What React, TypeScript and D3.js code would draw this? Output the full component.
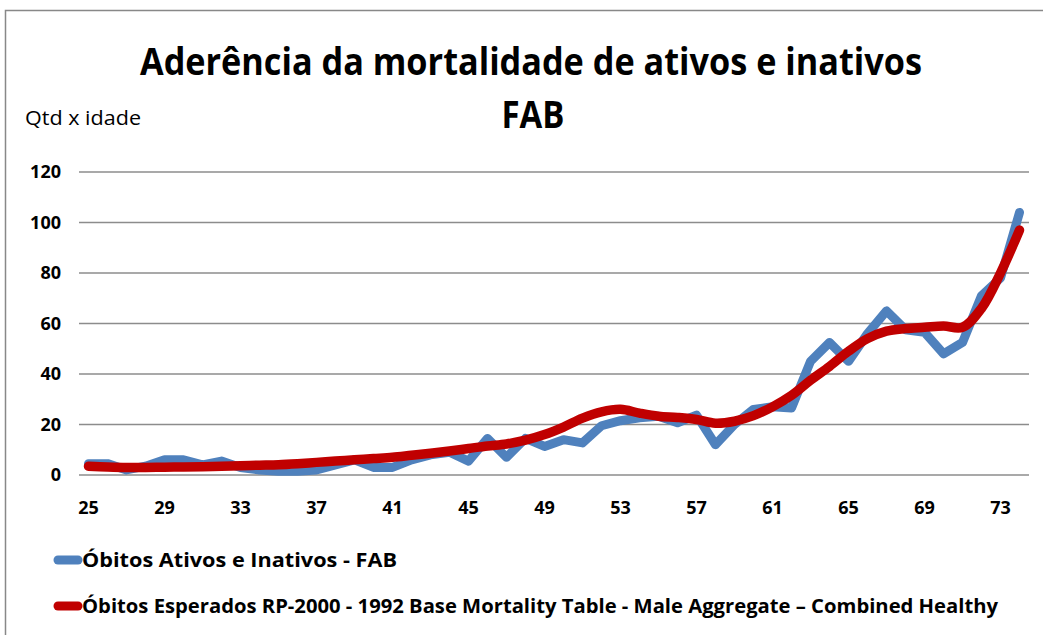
import React, { useEffect, useRef } from 'react';
import * as d3 from 'd3';

const ages = d3.range(25, 75);

const obitosFAB = [
  4.5, 4.5, 2, 3.5, 6, 6, 4, 5.5, 3, 2,
  1.5, 1.5, 2, 4, 6, 3, 3, 6, 8, 9,
  5.5, 14.5, 7, 14.5, 11.3, 14, 12.7, 19.5, 21.5, 22.7,
  23.3, 20.7, 23.7, 12, 20, 26, 27, 26.5, 45, 52.5,
  45, 56, 65, 57.5, 56.5, 48, 52.5, 71, 78, 104
];

const obitosEsperados = [
  3.5, 3.2, 3.0, 3.0, 3.1, 3.2, 3.3, 3.5, 3.7, 3.9,
  4.1, 4.5, 5.0, 5.5, 6.0, 6.5, 7.0, 7.8, 8.6, 9.5,
  10.5, 11.5, 12.3, 13.8, 16, 19, 22.5, 25, 26, 24.5,
  23.3, 22.8, 22, 20.5, 21.3, 23.5, 27, 31.5, 37.5, 43,
  49, 54, 57, 58, 58.5, 59, 58.5, 66, 80, 97
];

const yTicks = [0, 20, 40, 60, 80, 100, 120];
const xTicks = d3.range(25, 75, 4);

const seriesNames = [
  'Óbitos Ativos e Inativos - FAB',
  'Óbitos Esperados RP-2000 - 1992 Base Mortality Table - Male Aggregate – Combined Healthy'
];
const seriesColors = ['#4F81BD', '#C00000'];

const FONT = '"Open Sans", "Noto Sans", sans-serif';

const App = () => {
  const svgRef = useRef<SVGSVGElement>(null);

  useEffect(() => {
    const width = 1043;
    const height = 635;
    const svg = d3.select(svgRef.current);
    svg.selectAll('*').remove();
    svg.attr('width', width).attr('height', height);

    svg.append('rect')
      .attr('width', width)
      .attr('height', height)
      .attr('fill', '#fff');

    // chart border (right and bottom edges fall outside the picture)
    svg.append('rect')
      .attr('x', 5.5)
      .attr('y', 10.5)
      .attr('width', width + 10)
      .attr('height', height + 10)
      .attr('fill', '#fff')
      .attr('stroke', '#888')
      .attr('stroke-width', 1.5);

    const x = d3.scaleLinear().domain([24.5, 74.5]).range([79, 1029]);
    const y = d3.scaleLinear().domain([0, 120]).range([475, 172]);

    // title
    svg.append('text')
      .attr('x', 531)
      .attr('y', 75)
      .attr('text-anchor', 'middle')
      .attr('font-family', FONT)
      .attr('font-weight', 'bold')
      .attr('font-size', 37)
      .attr('textLength', 782)
      .attr('lengthAdjust', 'spacingAndGlyphs')
      .attr('fill', '#000')
      .text('Aderência da mortalidade de ativos e inativos');

    svg.append('text')
      .attr('x', 533)
      .attr('y', 128)
      .attr('text-anchor', 'middle')
      .attr('font-family', FONT)
      .attr('font-weight', 'bold')
      .attr('font-size', 38)
      .attr('textLength', 63)
      .attr('lengthAdjust', 'spacingAndGlyphs')
      .attr('fill', '#000')
      .text('FAB');

    svg.append('text')
      .attr('x', 25)
      .attr('y', 125)
      .attr('font-family', FONT)
      .attr('font-size', 20)
      .attr('textLength', 116)
      .attr('lengthAdjust', 'spacingAndGlyphs')
      .attr('fill', '#000')
      .text('Qtd x idade');

    // grid
    svg.append('g')
      .selectAll('line')
      .data(yTicks)
      .enter()
      .append('line')
      .attr('x1', 79)
      .attr('x2', 1029)
      .attr('y1', d => y(d))
      .attr('y2', d => y(d))
      .attr('stroke', '#8c8c8c')
      .attr('stroke-width', 1.5);

    // y labels
    svg.append('g')
      .selectAll('text')
      .data(yTicks)
      .enter()
      .append('text')
      .attr('x', 61)
      .attr('y', d => y(d) + 6)
      .attr('text-anchor', 'end')
      .attr('font-family', FONT)
      .attr('font-weight', 'bold')
      .attr('font-size', 18)
      .attr('fill', '#000')
      .text(d => d);

    // x labels
    svg.append('g')
      .selectAll('text')
      .data(xTicks)
      .enter()
      .append('text')
      .attr('x', d => x(d))
      .attr('y', 514)
      .attr('text-anchor', 'middle')
      .attr('font-family', FONT)
      .attr('font-weight', 'bold')
      .attr('font-size', 18)
      .attr('fill', '#000')
      .text(d => d);

    const blueLine = d3.line<number>()
      .x((d, i) => x(ages[i]))
      .y(d => y(d));

    const redLine = d3.line<number>()
      .x((d, i) => x(ages[i]))
      .y(d => y(d))
      .curve(d3.curveCatmullRom.alpha(0.5));

    svg.append('path')
      .datum(obitosFAB)
      .attr('d', blueLine)
      .attr('fill', 'none')
      .attr('stroke', seriesColors[0])
      .attr('stroke-width', 9)
      .attr('stroke-linejoin', 'round')
      .attr('stroke-linecap', 'round');

    svg.append('path')
      .datum(obitosEsperados)
      .attr('d', redLine)
      .attr('fill', 'none')
      .attr('stroke', seriesColors[1])
      .attr('stroke-width', 9.5)
      .attr('stroke-linejoin', 'round')
      .attr('stroke-linecap', 'round');

    // legend
    const legendY = [560, 606];
    const legend = svg.append('g');
    seriesNames.forEach((name, i) => {
      legend.append('line')
        .attr('x1', 58)
        .attr('x2', 78)
        .attr('y1', legendY[i])
        .attr('y2', legendY[i])
        .attr('stroke', seriesColors[i])
        .attr('stroke-width', 9)
        .attr('stroke-linecap', 'round');
      legend.append('text')
        .attr('x', 82)
        .attr('y', legendY[i] + 7)
        .attr('font-family', FONT)
        .attr('font-weight', 'bold')
        .attr('font-size', 19)
        .attr('textLength', i === 0 ? 315 : 916)
        .attr('lengthAdjust', 'spacingAndGlyphs')
        .attr('fill', '#000')
        .text(name);
    });
  }, []);

  return (
    <svg
      ref={svgRef}
      style={{ position: 'absolute', left: 0, top: 0, display: 'block' }}
    ></svg>
  );
};

export default App;
